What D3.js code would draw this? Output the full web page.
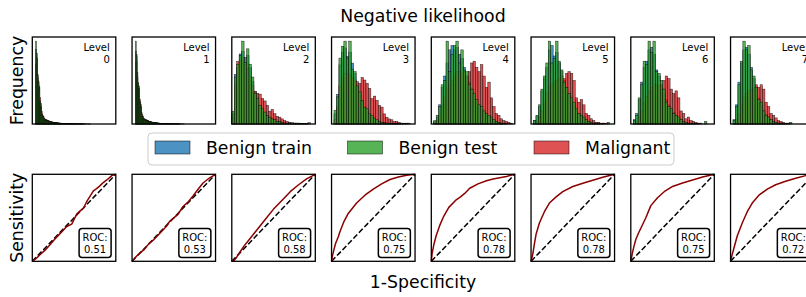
<!DOCTYPE html>
<html>
<head>
<meta charset="utf-8">
<script src="https://cdn.jsdelivr.net/npm/d3@7"></script>
<style>
  body { margin: 0; background: #fff; }
  svg { display: block; font-family: "DejaVu Sans", sans-serif; }
</style>
</head>
<body>
<script>
// levels and ROC scores
var levels = [0, 1, 2, 3, 4, 5, 6, 7];
var rocScores = ["0.51", "0.53", "0.58", "0.75", "0.78", "0.78", "0.75", "0.72"];
var binCount = [100, 100, 34, 34, 34, 34, 34, 34];
var seriesNames = ["Benign train", "Benign test", "Malignant"];

// histogram heights per level (relative units)
var benignTrain = [
  [0,0,0,0,90,80,55,48,44,28,22,12,9,8,6,5,5,4,4,3.5,3,3,2.5,2.5,2,2,2,1.8,1.6,1.5,1.4,1.2,1.1,1,1,0.9,0.8,0.8,0.7,0.7,0.6,0.6,0.5,0.5,0.5,0.4,0.4,0.4,0.3,0.3,0.3,0.3,0.2,0.2,0.2,0.2,0.2,0.2,0.1,0.1,0.1,0.1,0.1,0.1,0.1,0.1,0.1,0.1,0.1,0.1],
  [0,0,0,0,88,82,56,46,42,27,21,12,9,7.5,6,5,4.5,4,4,3.5,3,2.8,2.5,2.2,2,2,1.8,1.6,1.5,1.4,1.2,1.1,1,1,0.9,0.8,0.7,0.7,0.6,0.6,0.5,0.5,0.5,0.4,0.4,0.3,0.3,0.3,0.3,0.2,0.2,0.2,0.2,0.2,0.1,0.1,0.1,0.1,0.1,0.1,0.1,0.1,0.1],
  [12,58,66,82,85,78,80,66,50,38,28,22,17,14,10,8,6,5,3,3,2,1.5,1,1,0.5,0.5,0.5,0.5,0.5,0.5,0.5],
  [0,12,35,70,85,90,80,85,72,60,45,35,28,20,16,10,8,6,4,3,2,1.5,1,1,0.5,0.5,0.5],
  [0,3,8,22,42,55,70,85,90,85,88,80,75,65,55,48,40,32,26,20,17,13,10,8,6,4,3,2,1],
  [0,4,9,20,38,52,65,85,90,78,82,70,60,50,42,35,28,22,16,12,9,6,4,3,2,1,1,0.5],
  [0,5,12,28,48,65,72,85,88,80,62,55,45,35,28,22,17,13,10,7,5,3,2,1,1,0.5],
  [0,5,22,48,70,85,88,80,65,52,40,30,22,15,11,8,5,3,2,1,1,0.5]
];
var benignTest = [
  [0,0,0,0,100,85,58,50,42,27,20,11,9,7,6,5,4.5,4,3.5,3,3,2.5,2.5,2,2,1.8,1.6,1.5,1.4,1.2,1.1,1,1,0.9,0.8,0.8,0.7,0.6,0.6,0.5,0.5,0.5,0.4,0.4,0.4,0.3,0.3,0.3,0.2,0.2,0.2,0.2,0.2,0.1,0.1,0.1,0.1,0.1,0.1,0.1,0.1,0.1,0.1],
  [0,0,0,0,100,84,57,49,43,26,20,11,8.5,7,6,5,4.5,4,3.5,3,2.8,2.5,2.2,2,2,1.8,1.6,1.5,1.3,1.2,1.1,1,0.9,0.8,0.8,0.7,0.6,0.6,0.5,0.5,0.4,0.4,0.4,0.3,0.3,0.3,0.2,0.2,0.2,0.2,0.1,0.1,0.1,0.1,0.1,0.1,0.1],
  [15,55,70,80,97,72,88,70,55,36,30,22,18,14,10,8,6,5,3,3,2,1,1,1,1,1,1,0.5,0.5,0.5,0.5,1.5],
  [0,16,32,78,92,98,78,98,65,62,45,38,28,20,18,12,10,7,5,3,2,1.5,1,1,0.5,0.5,0.5,0.5,0.5,0.5,0.5],
  [0,4,10,20,45,50,95,60,80,90,95,70,85,62,60,45,40,35,28,22,20,15,12,10,8,5,3,2,1,0.5,0.5],
  [0,4,10,22,40,55,70,95,70,75,95,72,62,48,42,35,30,25,18,12,10,8,5,3,2,1,1,0.5,0.5,0.5,0,2],
  [0,4,10,30,45,72,68,95,82,95,60,58,50,40,25,20,18,12,10,8,5,3,2,1,1,0.5,0.5,0.5,0,0,3],
  [0,4,20,45,72,95,85,90,62,55,42,28,25,15,10,8,5,3,2,1,1,0.5,0.5,0.5,2]
];
var malignant = [
  [0,0,0,0,72,78,60,52,45,32,25,15,11,9,7,6,5.5,5,4.5,4,3.5,3,3,2.5,2.5,2,2,1.8,1.6,1.5,1.4,1.2,1.1,1,1,0.9,0.8,0.8,0.7,0.6,0.6,0.5,0.5,0.5,0.4,0.4,0.3,0.3,0.3,0.3,0.2,0.2,0.2,0.2,0.1,0.1,0.1,0.1,0.1,0.1,0.1],
  [0,0,0,0,74,76,62,50,46,30,24,14,11,9,7,6,5.5,5,4.5,4,3.5,3,2.8,2.5,2.2,2,2,1.8,1.6,1.4,1.3,1.2,1,1,0.9,0.8,0.8,0.7,0.6,0.6,0.5,0.5,0.4,0.4,0.4,0.3,0.3,0.3,0.2,0.2,0.2,0.2,0.1,0.1,0.1,0.1,0.1,0.1],
  [8,45,73,75,78,70,65,55,45,38,36,35,30,27,22,15,17,12,9,8,6,4,3,2,1.5,1,1,1,0.5,0.5,0.5],
  [0,5,20,45,55,60,60,58,55,52,50,48,55,52,48,42,30,33,28,22,20,12,8,6,5,3,3,2,1,1,1,1],
  [0,2,4,10,20,30,40,45,50,55,60,60,58,60,55,60,70,72,65,60,68,55,42,48,30,20,12,10,6,4,3,2,1],
  [0,1,3,8,15,25,35,42,45,48,50,52,55,52,58,60,58,50,30,25,28,22,12,10,6,4,2,2,1,1,1],
  [0,1,3,8,15,25,32,38,42,45,45,44,45,50,55,52,40,35,38,30,15,12,6,8,4,3,2,1,1],
  [0,1,5,12,22,30,35,38,40,40,45,42,45,40,25,20,12,10,7,4,3,2,1,1]
];

// ROC curves per level
var rocFpr = [
  [0,.05,.092,.15,.212,.26,.312,.36,.412,.472,.532,.58,.612,.66,.70,.732,.77,.812,.85,.892,.952,1],
  [0,.05,.1,.15,.2,.25,.33,.41,.45,.5,.55,.61,.67,.73,.8,.85,.93,1],
  [0,.03,.06,.1,.15,.2,.3,.4,.5,.6,.7,.8,.9,1],
  [0,.01,.03,.05,.08,.1,.15,.2,.25,.3,.4,.5,.6,.7,.8,.9,1],
  [0,.01,.03,.06,.1,.15,.21,.29,.35,.40,.46,.56,.66,.74,.82,.90,1],
  [0,.01,.02,.04,.06,.10,.16,.22,.30,.38,.50,.63,.75,.87,1],
  [0,.02,.04,.06,.09,.12,.18,.24,.32,.40,.50,.62,.74,.86,1],
  [0,.02,.04,.08,.14,.20,.26,.34,.44,.54,.66,.78,.90,1]
];
var rocTpr = [
  [0,.035,.076,.125,.19,.245,.298,.345,.40,.427,.542,.585,.61,.70,.76,.81,.835,.87,.905,.935,.985,1],
  [0,.055,.1,.14,.2,.24,.32,.40,.46,.5,.54,.63,.68,.75,.84,.9,.96,1],
  [0,.01,.05,.11,.18,.24,.36,.48,.6,.7,.8,.88,.95,1],
  [0,.06,.14,.21,.28,.34,.46,.55,.61,.67,.76,.83,.89,.94,.97,.99,1],
  [0,.09,.19,.3,.41,.52,.62,.70,.74,.78,.84,.89,.925,.945,.96,.975,1],
  [0,.04,.08,.2,.31,.44,.57,.67,.74,.80,.86,.90,.935,.97,1],
  [0,.10,.18,.25,.32,.38,.50,.64,.73,.80,.86,.90,.935,.97,1],
  [0,.08,.15,.29,.44,.57,.67,.76,.83,.88,.92,.955,.985,1]
];

var width = 806, height = 297,
    colX0 = 32.3, colStep = 99.75,
    panelW = 83.5, panelH = 87,
    histTop = 37, rocTop = 174.3,
    bigFont = 17.3, smallFont = 10;

var colors = {train: "#1f77b4", test: "#2ca02c", mal: "#d62728"};

var svg = d3.select("body").append("svg")
  .attr("width", width)
  .attr("height", height);

//Histograms
levels.forEach(function(l, li){
  var g = svg.append("g")
    .attr("transform", "translate(" + (colX0 + li * colStep) + "," + histTop + ")");

  var maxVal = d3.max([].concat(benignTrain[li], benignTest[li], malignant[li]));

  var x = d3.scaleLinear()
    .domain([0, binCount[li]])
    .range([0, panelW]);

  var y = d3.scaleLinear()
    .domain([0, maxVal * 1.05])
    .range([panelH, 0]);

  // draw order: train, malignant, test
  var series = [
    {vals: benignTrain[li], color: colors.train},
    {vals: malignant[li], color: colors.mal},
    {vals: benignTest[li], color: colors.test}
  ];

  series.forEach(function(s){
    var bins = s.vals.map(function(v, i){ return {i: i, v: v}; })
      .filter(function(d){ return d.v > 0; });
    g.append("g").selectAll("rect")
      .data(bins)
      .enter()
      .append("rect")
      .attr("x", function(d){ return x(d.i); })
      .attr("width", function(d){ return x(d.i + 1) - x(d.i); })
      .attr("y", function(d){ return y(d.v); })
      .attr("height", function(d){ return panelH - y(d.v); })
      .attr("fill", s.color)
      .attr("fill-opacity", 0.8)
      .attr("stroke", "#000")
      .attr("stroke-opacity", 0.8)
      .attr("stroke-width", 0.5);
  });

  g.append("rect")
    .attr("width", panelW)
    .attr("height", panelH)
    .attr("fill", "none")
    .attr("stroke", "#000")
    .attr("stroke-width", 1.3);

  var lab = g.append("text")
    .attr("text-anchor", "end")
    .attr("font-size", smallFont)
    .attr("fill", "#000");
  lab.append("tspan").attr("x", panelW - 6).attr("y", 14).text("Level");
  lab.append("tspan").attr("x", panelW - 6).attr("y", 25.5).text(l);
});

//ROC curves
levels.forEach(function(l, li){
  var g = svg.append("g")
    .attr("transform", "translate(" + (colX0 + li * colStep) + "," + rocTop + ")");

  var x = d3.scaleLinear().domain([0, 1]).range([0, panelW]);
  var y = d3.scaleLinear().domain([0, 1]).range([panelH, 0]);

  var pts = rocFpr[li].map(function(f, i){ return [f, rocTpr[li][i]]; });

  g.append("line")
    .attr("x1", x(0)).attr("y1", y(0))
    .attr("x2", x(1)).attr("y2", y(1))
    .attr("stroke", "#000")
    .attr("stroke-width", 1.5)
    .attr("stroke-dasharray", "5.5,2.4");

  g.append("path")
    .datum(pts)
    .attr("fill", "none")
    .attr("stroke", "#8b0000")
    .attr("stroke-width", 1.5)
    .attr("stroke-linejoin", "round")
    .attr("d", d3.line()
      .x(function(d){ return x(d[0]); })
      .y(function(d){ return y(d[1]); }));

  g.append("rect")
    .attr("width", panelW)
    .attr("height", panelH)
    .attr("fill", "none")
    .attr("stroke", "#000")
    .attr("stroke-width", 1.3);

  var bw = 32, bh = 29,
      bx = panelW - 4.7 - bw, by = panelH - 3.7 - bh;
  g.append("rect")
    .attr("x", bx).attr("y", by)
    .attr("width", bw).attr("height", bh)
    .attr("rx", 3)
    .attr("fill", "#fff")
    .attr("stroke", "#000")
    .attr("stroke-width", 1.5);
  var t = g.append("text")
    .attr("text-anchor", "middle")
    .attr("font-size", smallFont)
    .attr("fill", "#000");
  t.append("tspan").attr("x", bx + bw / 2).attr("y", by + 12).text("ROC:");
  t.append("tspan").attr("x", bx + bw / 2).attr("y", by + 24).text(rocScores[li]);
});

//Labels
svg.append("text")
  .attr("x", 423).attr("y", 22)
  .attr("text-anchor", "middle")
  .attr("font-size", bigFont)
  .text("Negative likelihood");

svg.append("text")
  .attr("x", 423).attr("y", 288)
  .attr("text-anchor", "middle")
  .attr("font-size", bigFont)
  .text("1-Specificity");

svg.append("text")
  .attr("transform", "translate(23," + (histTop + panelH / 2) + ") rotate(-90)")
  .attr("text-anchor", "middle")
  .attr("font-size", bigFont)
  .text("Frequency");

svg.append("text")
  .attr("transform", "translate(23," + (rocTop + panelH / 2) + ") rotate(-90)")
  .attr("text-anchor", "middle")
  .attr("font-size", bigFont)
  .text("Sensitivity");

//Legend
var legend = svg.append("g");
legend.append("rect")
  .attr("x", 148).attr("y", 133)
  .attr("width", 526).attr("height", 32)
  .attr("rx", 4)
  .attr("fill", "#fff")
  .attr("stroke", "#ccc")
  .attr("stroke-width", 1);

var legendX = [155, 347.5, 534];
var legendColors = [colors.train, colors.test, colors.mal];
seriesNames.forEach(function(name, i){
  legend.append("rect")
    .attr("x", legendX[i]).attr("y", 141)
    .attr("width", 35).attr("height", 13)
    .attr("fill", legendColors[i])
    .attr("fill-opacity", 0.8)
    .attr("stroke", "#000")
    .attr("stroke-opacity", 0.8)
    .attr("stroke-width", 0.6);
  legend.append("text")
    .attr("x", legendX[i] + 51).attr("y", 154)
    .attr("font-size", bigFont)
    .text(name);
});
</script>
</body>
</html>
